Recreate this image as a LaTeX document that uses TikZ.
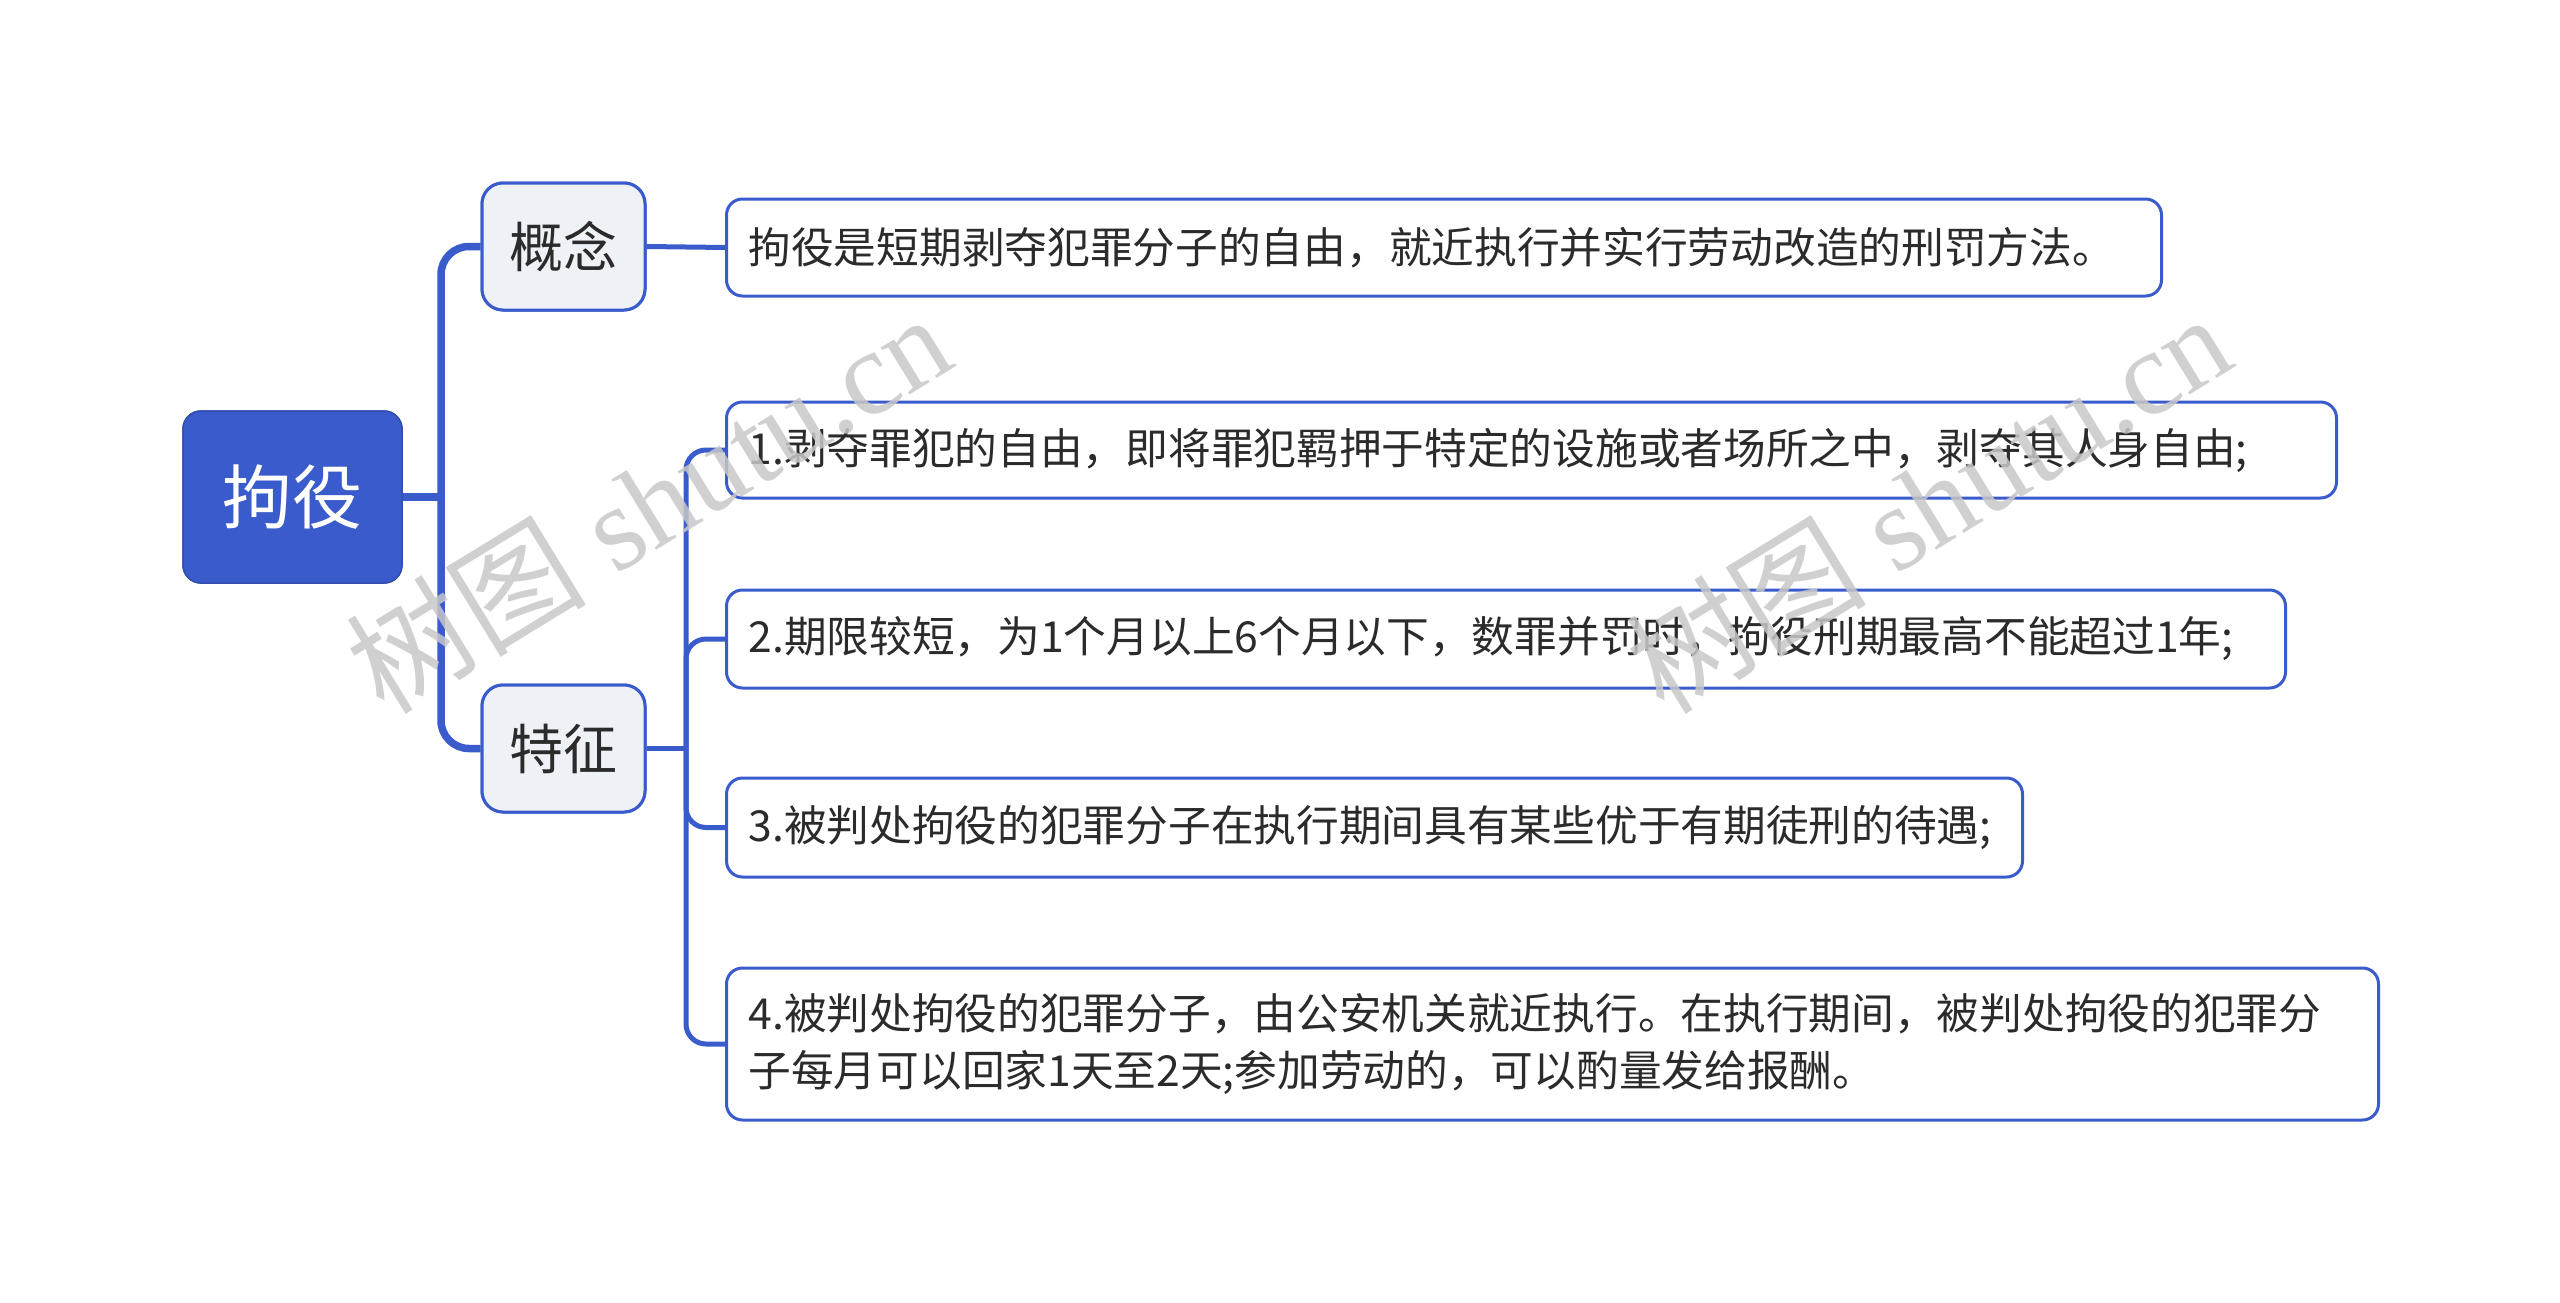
\documentclass[tikz,border=0pt]{standalone}
\usepackage{fontspec}
\setmainfont{Liberation Serif}
\newfontfamily\cjk{Noto Sans CJK SC}
\newfontfamily\wmserif{Liberation Serif}
\definecolor{mblue}{HTML}{3A5BCB}
\definecolor{subfill}{HTML}{EEF1F6}
\definecolor{txt}{HTML}{2B2B2B}
\definecolor{wmgray}{HTML}{C8C8C8}
\begin{document}
\begin{tikzpicture}[x=1pt,y=-1pt,
  rootbox/.style={fill=mblue, draw=mblue!85!black, line width=1.5pt, rounded corners=18pt,
    minimum width=219pt, minimum height=172pt, inner sep=0pt, text=white,
    font=\cjk\fontsize{70}{84}\selectfont},
  subbox/.style={fill=subfill, draw=mblue, line width=3pt, rounded corners=21pt,
    minimum width=163pt, minimum height=127pt, inner sep=0pt, text=txt,
    font=\cjk\fontsize{54}{64}\selectfont},
  leafbox/.style={fill=white, draw=mblue, line width=3pt, rounded corners=16pt,
    anchor=west, inner xsep=22pt, inner ysep=0pt, align=left, text=txt,
    font=\cjk\fontsize{42.7}{57}\selectfont},
  connA/.style={draw=mblue, line width=7.5pt, rounded corners=28pt},
  connB/.style={draw=mblue, line width=5pt, rounded corners=20pt},
  wmark/.style={text=wmgray, opacity=0.85, rotate=31.5, inner sep=0pt}
]
\useasboundingbox[fill=white] (0,0) rectangle (2560,1303);

\coordinate (t1) at (441,497);
\coordinate (t2) at (686,748.5);

% nodes
\node[rootbox] (root) at (292.5,497) {拘役};
\node[subbox] (gainian) at (563.5,246.5) {概念};
\node[subbox] (tezheng) at (563.5,748.5) {特征};

\node[leafbox, text width=1391pt, minimum height=97pt] (c0) at (725,247.5)
  {拘役是短期剥夺犯罪分子的自由，就近执行并实行劳动改造的刑罚方法。};
\node[leafbox, text width=1566pt, minimum height=96pt] (f1) at (725,450)
  {1.剥夺罪犯的自由，即将罪犯羁押于特定的设施或者场所之中，剥夺其人身自由;};
\node[leafbox, text width=1515pt, minimum height=98pt] (f2) at (725,639)
  {2.期限较短，为1个月以上6个月以下，数罪并罚时，拘役刑期最高不能超过1年;};
\node[leafbox, text width=1252pt, minimum height=99pt] (f3) at (725,827.5)
  {3.被判处拘役的犯罪分子在执行期间具有某些优于有期徒刑的待遇;};
\node[leafbox, text width=1608pt, minimum height=152pt] (f4) at (725,1044)
  {4.被判处拘役的犯罪分子，由公安机关就近执行。在执行期间，被判处拘役的犯罪分\\子每月可以回家1天至2天;参加劳动的，可以酌量发给报酬。};

% connectors
\draw[connA] (root.east) -- (t1);
\draw[connA] (t1) |- (gainian.west);
\draw[connA] (t1) |- (tezheng.west);
\draw[connB] (gainian.east) -- (c0.west);
\draw[connB] (tezheng.east) -- (t2);
\draw[connB] (t2) |- (f1.west);
\draw[connB] (t2) |- (f2.west);
\draw[connB] (t2) |- (f3.west);
\draw[connB] (t2) |- (f4.west);

% redraw boxes on top of connector ends
\node[rootbox] at (root) {拘役};
\node[subbox] at (gainian) {概念};
\node[subbox] at (tezheng) {特征};

% watermarks
\node[wmark] (wm1) at (648,502) {\fontsize{120}{120}\selectfont{\cjk 树图} \wmserif shutu.cn};
\node[wmark] (wm2) at (1928,502) {\fontsize{120}{120}\selectfont{\cjk 树图} \wmserif shutu.cn};
\end{tikzpicture}
\end{document}
